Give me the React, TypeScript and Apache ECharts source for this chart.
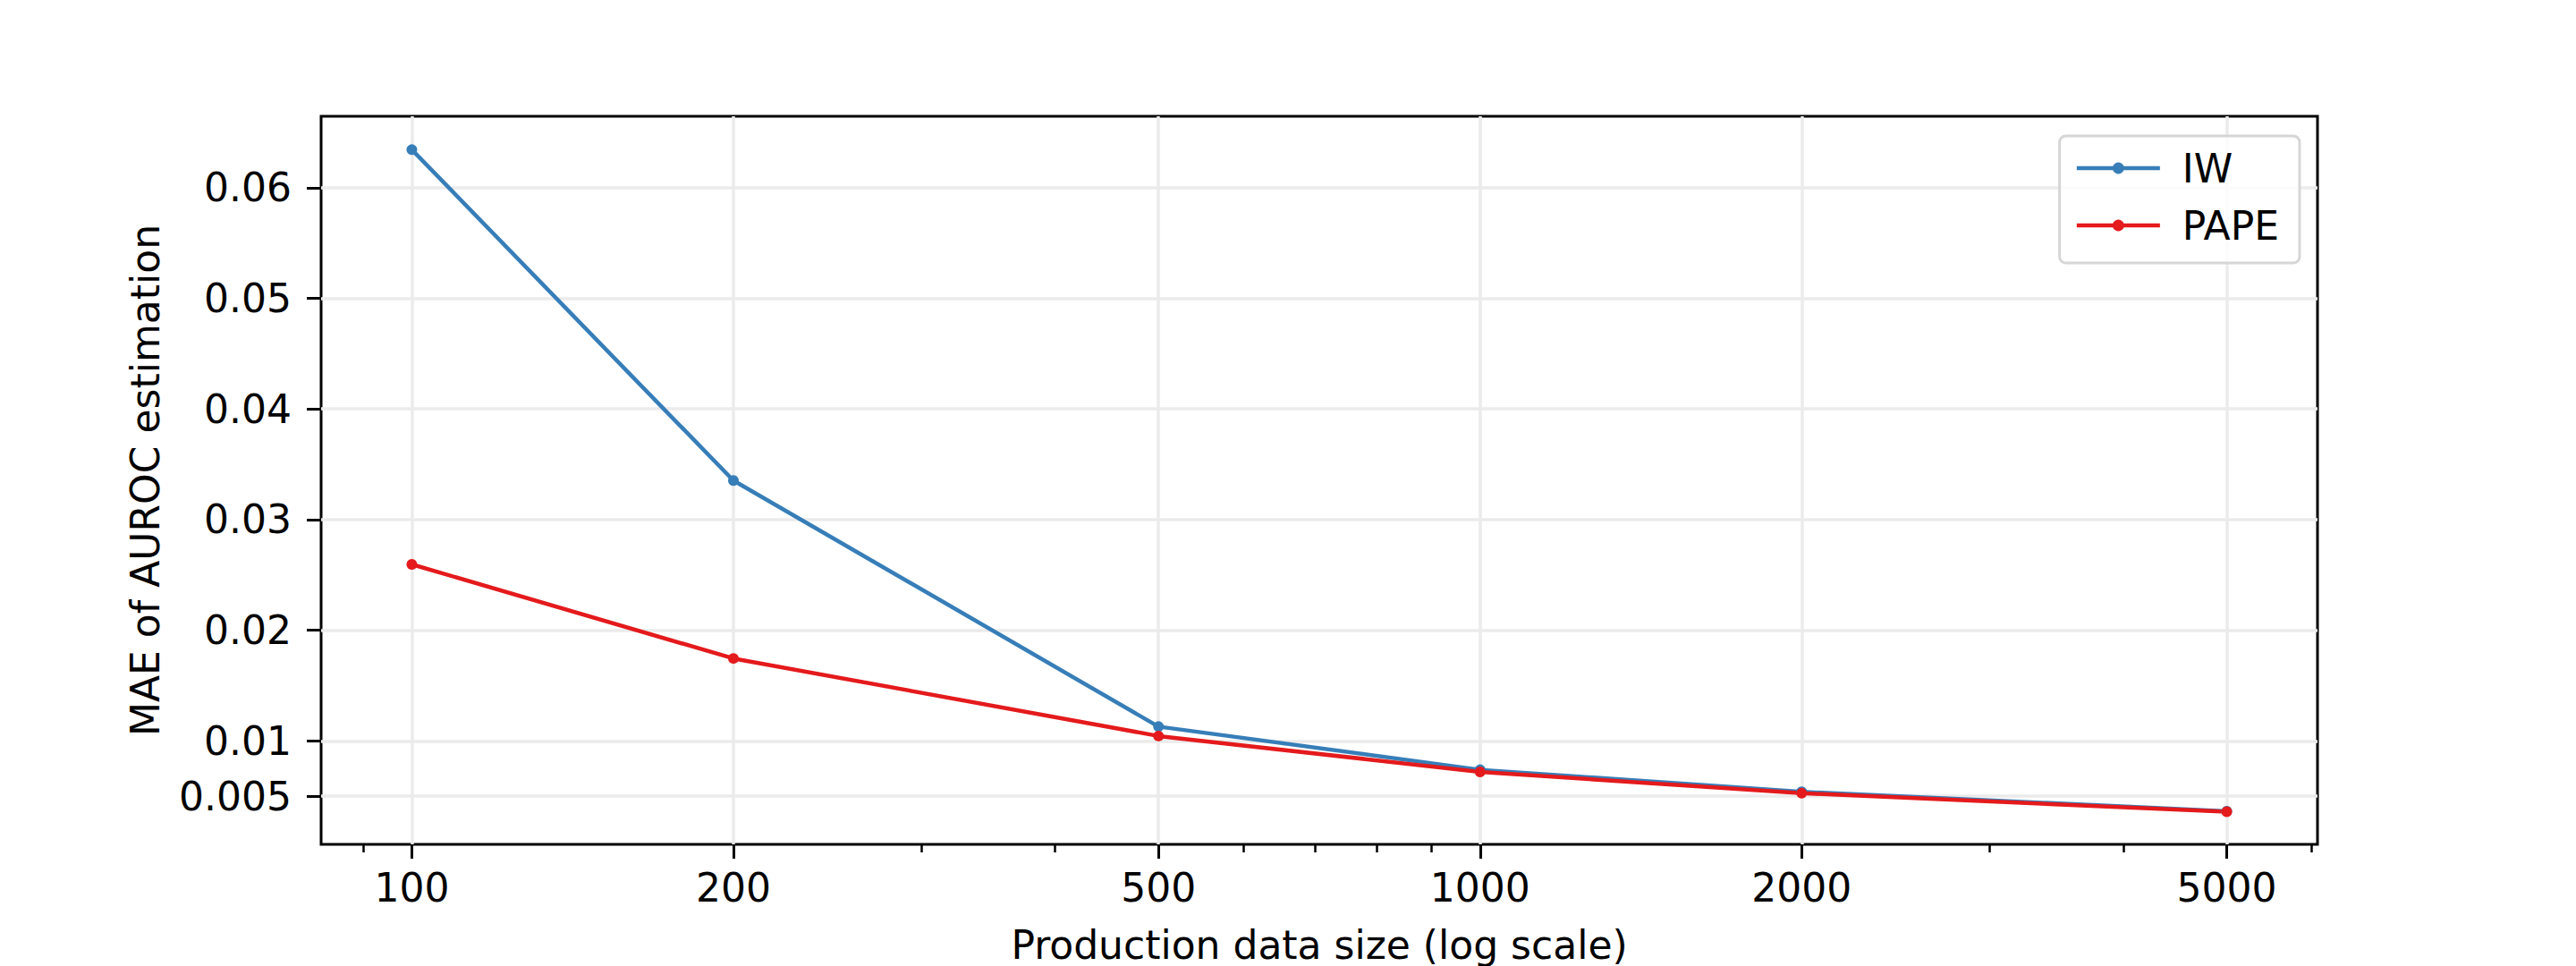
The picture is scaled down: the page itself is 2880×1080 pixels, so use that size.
import { useEffect, useRef } from 'react';
import * as echarts from 'echarts';

const sizes = [100, 200, 500, 1000, 2000, 5000];
const minorSizes = [90, 300, 400, 600, 700, 800, 900, 3000, 4000, 6000];
const iwValues = [0.06343, 0.03353, 0.01129, 0.00739, 0.0054, 0.00365];
const papeValues = [0.02595, 0.01745, 0.01044, 0.0072, 0.00527, 0.0036];
const yTicks = [0.005, 0.01, 0.02, 0.03, 0.04, 0.05, 0.06];

const FONT = 'DejaVu Sans';
const FS = 44;
const BLUE = '#377eb8';
const RED = '#e41a1c';

const lg = (v: number) => Math.log10(v);

export default function App() {
  const chartRef = useRef<HTMLDivElement>(null);

  useEffect(() => {
    document.body.style.margin = '0';
    if (!chartRef.current) return;
    const chart = echarts.init(chartRef.current, null, { renderer: 'svg' });

    // log x axis drawn as value axis over log10(size), with matplotlib's 5% margin
    const xMin = lg(100) - 0.08495;
    const xMax = lg(5000) + 0.08495;

    const option: echarts.EChartsOption = {
      animation: false,
      backgroundColor: '#fff',
      textStyle: { fontFamily: FONT },
      grid: {
        left: 359,
        right: 289,
        top: 130,
        bottom: 136,
        outerBoundsMode: 'none',
        show: true,
        borderColor: '#000',
        borderWidth: 3,
        backgroundColor: 'transparent',
      } as any,
      legend: {
        orient: 'vertical',
        right: 309,
        top: 152,
        padding: [14, 23, 20, 17],
        itemWidth: 93,
        itemHeight: 16,
        itemGap: 20,
        borderColor: '#d6d6d6',
        borderWidth: 3,
        borderRadius: 7,
        backgroundColor: 'rgba(255,255,255,0.8)',
        lineStyle: { width: 4.5 },
        textStyle: { fontFamily: FONT, fontSize: FS, color: '#000', padding: [0, 0, 0, 20] },
        data: ['IW', 'PAPE'],
      },
      xAxis: [
        {
          type: 'value',
          min: xMin,
          max: xMax,
          axisLine: { show: false },
          axisTick: {
            show: true,
            length: 16,
            lineStyle: { color: '#000', width: 3 },
            customValues: sizes.map(lg),
          },
          axisLabel: {
            show: true,
            margin: 26,
            fontFamily: FONT,
            fontSize: FS,
            color: '#000',
            customValues: sizes.map(lg),
            formatter: (v: number) => String(Math.round(Math.pow(10, v))),
          },
          splitLine: { show: true, lineStyle: { color: '#ebebeb', width: 3.5 } },
          name: 'Production data size (log scale)',
          nameLocation: 'middle',
          nameGap: 90,
          nameTextStyle: { fontFamily: FONT, fontSize: FS, color: '#000' },
        },
        {
          // minor ticks only
          type: 'value',
          min: xMin,
          max: xMax,
          position: 'bottom',
          axisLine: { show: false },
          axisTick: {
            show: true,
            length: 9,
            lineStyle: { color: '#000', width: 2.5 },
            customValues: minorSizes.map(lg),
          },
          axisLabel: { show: false },
          splitLine: { show: false },
        },
      ],
      yAxis: {
        type: 'value',
        min: 0.00065,
        max: 0.06645,
        axisLine: { show: false },
        axisTick: {
          show: true,
          length: 16,
          lineStyle: { color: '#000', width: 3 },
          customValues: yTicks,
        },
        axisLabel: {
          margin: 33,
          fontFamily: FONT,
          fontSize: FS,
          color: '#000',
          customValues: yTicks,
          formatter: (v: number) => String(v),
        },
        splitLine: { show: true, lineStyle: { color: '#ebebeb', width: 3.5 } },
        name: 'MAE of AUROC estimation',
        nameLocation: 'middle',
        nameGap: 175,
        nameTextStyle: { fontFamily: FONT, fontSize: FS, color: '#000' },
      },
      series: [
        {
          name: 'IW',
          type: 'line',
          data: sizes.map((s, i) => [lg(s), iwValues[i]]),
          symbol: 'circle',
          symbolSize: 12,
          lineStyle: { color: BLUE, width: 4.5 },
          itemStyle: { color: BLUE },
        },
        {
          name: 'PAPE',
          type: 'line',
          data: sizes.map((s, i) => [lg(s), papeValues[i]]),
          symbol: 'circle',
          symbolSize: 12,
          lineStyle: { color: RED, width: 4.5 },
          itemStyle: { color: RED },
        },
      ],
    };

    chart.setOption(option);

    return () => {
      chart.dispose();
    };
  }, []);

  return <div ref={chartRef} style={{ width: 2880, height: 1080 }} />;
}
